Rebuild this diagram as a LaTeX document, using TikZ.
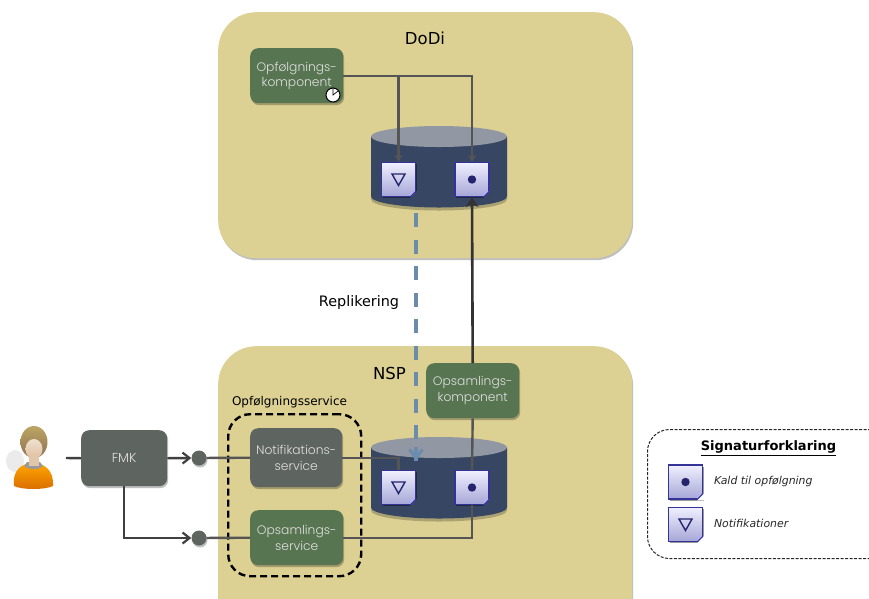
\documentclass[tikz,border=0pt]{standalone}
\usepackage{fontspec}
\setmainfont{DejaVu Sans}
\newfontfamily\boxfont{Poppins Light}
\usetikzlibrary{arrows.meta,shadows,calc}
\definecolor{panelc}{HTML}{DCD092}
\definecolor{greenbox}{HTML}{587552}
\definecolor{greybox}{HTML}{5E645F}
\definecolor{cyl}{HTML}{374662}
\definecolor{cyltop}{HTML}{9198A3}
\definecolor{linec}{HTML}{555555}
\definecolor{repl}{HTML}{6C8CAE}
\definecolor{docedge}{HTML}{33339A}
\definecolor{docsym}{HTML}{25256F}
\tikzset{
  softshadow/.style={drop shadow={shadow xshift=1pt,shadow yshift=-2pt,opacity=.25,fill=black}},
  panel/.style={fill=panelc,rounded corners=38pt,softshadow,draw=none,inner sep=0pt,anchor=north west},
  svcbox/.style={rounded corners=8pt,softshadow,inner sep=0pt,text=white!88!black,align=center,
    font=\boxfont\fontsize{12.3}{15.5}\selectfont,anchor=north west},
  greenb/.style={svcbox,fill=greenbox},
  greyb/.style={svcbox,fill=greybox},
  conn/.style={draw=linec,line width=2.4pt},
  connarrow/.style={conn,-{Stealth[length=7pt,width=8pt]}},
  fmkline/.style={draw=black!75,line width=2.4pt},
  fmkarrow/.style={fmkline,-{Straight Barb[length=7pt,width=11pt,line width=2.2pt]}},
  port/.style={circle,fill=greybox,minimum size=15pt,inner sep=0pt,softshadow},
  docbox/.style={rectangle,draw=docedge,line width=1.1pt,top color=white!94!blue,bottom color=blue!50!white!55!gray!70!white,
    minimum size=34pt,inner sep=0pt,drop shadow={shadow xshift=1pt,shadow yshift=-1.5pt,opacity=.4,fill=black}},
  title/.style={font=\fontsize{16.5}{19}\selectfont,text=black},
  legendtext/.style={font=\itshape\fontsize{10.9}{13}\selectfont,text=black!85,anchor=west},
}
\newcommand{\docdot}[3]{%
  \node[docbox] (#1) at (#2) {};
  \fill[docsym] (#1.center) circle (4.2pt);
  \docfold{#1}{#3}}
\newcommand{\doctri}[3]{%
  \node[docbox] (#1) at (#2) {};
  \draw[docsym,line width=1.4pt,line join=miter] ($(#1.center)+(-6.5,-5.5)$) -- ($(#1.center)+(6.5,-5.5)$) -- ($(#1.center)+(0,6)$) -- cycle;
  \docfold{#1}{#3}}
\newcommand{\docfold}[2]{%
  \fill[#2] ($(#1.south east)+(-6,0.8)$) -- ($(#1.south east)+(0.8,0.8)$) -- ($(#1.south east)+(0.8,-6)$) -- cycle;
  \fill[white!70!blue] ($(#1.south east)+(-6,0)$) -- ($(#1.south east)+(0,-6)$) -- ($(#1.south east)+(-5,-5)$) -- cycle;
  \draw[docedge,line width=.9pt] ($(#1.south east)+(-6,0)$) -- ($(#1.south east)+(0,-6)$);}
\newcommand{\cylinder}[3]{%
  \fill[black,opacity=.22] (#1,#2+3) -- ++(0,60) arc[start angle=180,end angle=0,x radius=68,y radius=11] -- ++(0,-60) -- cycle;
  \fill[cyl] (#1,#2) -- ++(0,60) arc[start angle=180,end angle=0,x radius=68,y radius=11] -- ++(0,-60) -- cycle;
  \fill[cyltop] (#1+68,#2) ellipse[x radius=68,y radius=10.5];
  \coordinate (#3) at (#1+68,#2);}
\begin{document}
\begin{tikzpicture}[x=1pt,y=-1pt]
\useasboundingbox (0,0) rectangle (869,598);
\clip (0,0) rectangle (869,598);
% panels
\node[panel,minimum width=414pt,minimum height=246pt] (dodi) at (218,12) {};
\node[panel,minimum width=414pt,minimum height=290pt] (nsp) at (218,346) {};
\node[title] (dodilabel) at (425,38) {DoDi};
\node[title] (nsplabel) at (389.5,373) {NSP};
% cylinders
\cylinder{371}{136.5}{cyla}
\cylinder{371}{447.5}{cylb}
% documents
\doctri{atri}{398.5,179.5}{cyl}
\docdot{adot}{472,179.5}{cyl}
\doctri{btri}{398.5,487.5}{cyl}
\docdot{bdot}{472,487.5}{cyl}
% service boxes
\node[greenb,minimum width=93pt,minimum height=55pt] (opk) at (250,48) {Opfølgnings-\\komponent};
\node[greenb,minimum width=93pt,minimum height=55pt] (osk) at (426,363) {Opsamlings-\\komponent};
\node[greyb,minimum width=92pt,minimum height=59pt] (nots) at (250,428) {Notifikations-\\service};
\node[greenb,minimum width=93pt,minimum height=55pt] (oss) at (250,510) {Opsamlings-\\service};
\node[greyb,minimum width=86pt,minimum height=56pt,font=\boxfont\fontsize{13}{15}\selectfont] (fmk) at (81,430) {FMK};
% clock
\node[circle,draw=black,fill=white,line width=1pt,minimum size=14pt,inner sep=0pt] (clock) at (333,95) {};
\draw[black,line width=.7pt] (clock.north) -- (clock.center) -- ($(clock.center)+(5,-4)$);
% ports
\node[port] (pa) at (199,458) {};
\node[port] (pb) at (199,538) {};
% dashed group
\node[draw=black,line width=2.4pt,dash pattern=on 7pt off 4pt,rounded corners=22pt,minimum width=133pt,minimum height=162pt,inner sep=0pt,anchor=north west] (grp) at (227,413) {};
\node[font=\fontsize{12}{14}\selectfont,text=black] (grplabel) at (289.5,402.5) {Opfølgningsservice};
% connectors
\draw[connarrow] (opk.east) -| (atri.north);
\draw[connarrow] (opk.east) -| (adot.north);
\draw[conn] (nots.east) -| (btri.north);
\draw[conn] (oss.east) -| (bdot.south);
\draw[conn] (bdot.north) -- (osk.south);
\draw[fmkline,-{Stealth[length=10pt,width=13pt]},line width=2.6pt,draw=black!80] (osk.north) -- (adot.south);
\draw[conn] (pa) -- (nots.west);
\draw[conn] (pb) -- (oss.west);
\coordinate (replstart) at (416,213);
\coordinate (replend) at (416,461);
\draw[draw=repl,line width=3.6pt,dash pattern=on 14pt off 12.5pt] (replstart) -- (replend);
\draw[draw=repl,line width=3.2pt,-{Straight Barb[length=9pt,width=13pt,line width=3.2pt]}] (416,447) -- (replend);
\node[font=\fontsize{14.4}{17}\selectfont,text=black] (repltext) at (359,303) {Replikering};
% person
\fill[black!8] (15,461) ellipse[x radius=9,y radius=11];
\node[circle,inner sep=0pt,minimum size=0pt] (person) at (33,458) {};
\shade[top color=orange!70!yellow,bottom color=orange!85!black] (14,486) .. controls (12,470) and (22,463) .. (33,463) .. controls (44,463) and (54,470) .. (53,486) .. controls (45,490) and (22,490) .. (14,486) -- cycle;
\fill[black!40] (24,466) .. controls (28,470) and (39,470) .. (43,466) -- (40,462) -- (27,462) -- cycle;
\shade[top color=brown!50!olive!70!white,bottom color=brown!60!black!80] (34,442) ellipse[x radius=13.5,y radius=16];
\shade[top color=brown!25!white,bottom color=brown!50!white] (34,449) ellipse[x radius=8.5,y radius=10];
\fill[brown!45!white] (29,454) rectangle (39,466);
% FMK wires
\draw[fmkline] (person.center) ++(33,0) coordinate (pstart) -- (fmk.west);
\draw[fmkarrow] (fmk.east) -- (pa.west);
\coordinate (fmkdown) at (124,486);
\draw[fmkarrow] (fmkdown) |- (pb.west);
% legend
\node[draw=black!85,line width=1pt,dash pattern=on 3pt off 1.5pt,rounded corners=22pt,minimum width=250pt,minimum height=129pt,anchor=north west,inner sep=0pt] (legend) at (647,429) {};
\node[font=\bfseries\fontsize{13}{16}\selectfont,text=black] (legtitle) at (768.5,448) {\underline{Signaturforklaring}};
\docdot{ldot}{685.5,482}{white}
\doctri{ltri}{685.5,524.5}{white}
\node[legendtext] (ldottext) at (710.5,481) {Kald til opfølgning};
\node[legendtext] (ltritext) at (710.5,523) {Notifikationer};
\end{tikzpicture}
\end{document}
